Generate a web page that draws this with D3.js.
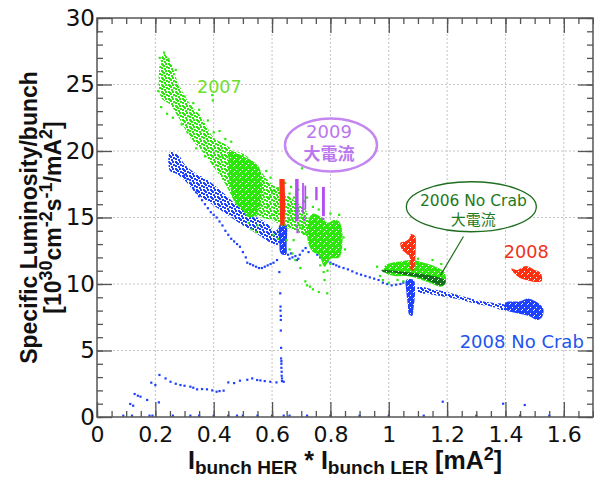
<!DOCTYPE html>
<html>
<head>
<meta charset="utf-8">
<script src="https://cdn.jsdelivr.net/npm/d3@7"></script>
<style>
  body { margin: 0; background: #fff; }
  .tick text { font-family: "DejaVu Sans", sans-serif; fill: #111; }
</style>
</head>
<body>
<div class="chart"></div>
<script>
const w = 594;
const h = 478;
const plotL = 97, plotR = 593, plotT = 18, plotB = 417;

// ---- data (x = I_HER*I_LER [mA^2], y = specific lumi) ----
const xTicks = [0, 0.2, 0.4, 0.6, 0.8, 1, 1.2, 1.4, 1.6];
const yTicks = [0, 5, 10, 15, 20, 25, 30];

// 2007 (light green): cloud outlines + loose points
const green2007Sparse = [
  [0.215,27.0],[0.23,27.4],[0.245,26.9],[0.27,26.1],[0.21,24.5],[0.22,23.3],[0.24,22.8],[0.26,22.5],
  [0.29,22.0],[0.31,21.4],[0.30,24.1],[0.33,23.6],[0.35,23.1],[0.38,22.3],[0.395,24.2],[0.397,23.8],
  [0.40,21.4],[0.42,21.5],[0.44,20.9],[0.46,20.7],[0.34,20.2],[0.43,19.6],[0.37,19.6],
  [0.57,17.7],[0.58,18.5],[0.59,16.5],[0.60,17.0],[0.61,16.0],[0.62,17.2],[0.60,15.2],[0.64,16.6],
  [0.655,16.0],[0.66,15.5],[0.665,17.3],[0.67,14.9],[0.675,16.5],[0.69,15.7],[0.695,14.4],[0.70,15.0],
  [0.705,14.2],[0.71,16.2],[0.715,13.8],[0.655,14.7],[0.64,15.5],[0.703,18.7],[0.69,17.1],[0.72,16.5],
  [0.575,16.8],[0.585,15.8],[0.595,18.0],[0.615,15.4],[0.63,16.2],[0.645,17.6],[0.66,16.8],[0.68,15.2],
  [0.52,14.6],[0.53,14.1],[0.545,13.9],[0.55,14.4],[0.605,13.7],[0.62,13.4],[0.65,13.3],[0.674,13.3],
  [0.66,12.6],[0.67,12.3],[0.68,11.8],[0.697,11.2],[0.72,9.9],[0.73,9.8],[0.714,10.2],[0.74,9.6],
  [0.76,9.4],[0.789,9.3],[0.78,10.3],[0.777,10.9],[0.765,11.4],[0.80,11.5],[0.79,11.0],
  [0.71,14.6],[0.74,15.8],[0.76,15.6],[0.80,15.3],[0.83,15.2],[0.845,13.5],[0.85,12.6],
  [0.96,11.3],[0.97,10.6],[0.98,10.3],[1.00,10.1],[1.03,10.3],[1.05,10.2],[1.10,11.9],[1.15,11.8],[1.18,11.5]
];
const green2007Loose = [
  [[0.215,26.5],[0.23,27.3],[0.25,26.8],[0.28,25.0],[0.32,23.5],[0.36,22.5],[0.40,21.0],[0.44,20.5],
   [0.47,20.0],[0.50,19.8],[0.53,19.3],[0.56,18.5],[0.60,17.5],[0.64,16.9],[0.68,16.2],[0.72,15.4],
   [0.72,13.6],[0.68,14.0],[0.64,14.3],[0.60,14.8],[0.56,15.0],[0.53,15.2],[0.50,15.6],[0.47,16.3],
   [0.44,17.5],[0.40,18.8],[0.36,20.0],[0.32,21.0],[0.28,22.5],[0.25,23.5],[0.22,24.0]]
];
const green2007Dense = [
  [[0.455,20.0],[0.48,19.8],[0.52,19.4],[0.555,18.8],[0.565,17.5],[0.56,16.0],[0.545,15.2],
   [0.52,15.0],[0.50,15.5],[0.47,16.2],[0.455,17.5],[0.45,19.0]],
  [[0.725,14.8],[0.74,15.3],[0.77,15.0],[0.79,14.6],[0.81,14.8],[0.83,14.7],[0.84,14.0],[0.84,12.8],
   [0.83,12.0],[0.80,11.9],[0.78,11.3],[0.76,12.2],[0.74,12.4],[0.725,13.0],[0.72,14.0]],
  [[0.985,11.3],[1.01,11.6],[1.04,11.7],[1.08,11.8],[1.12,11.6],[1.16,11.3],[1.19,10.9],[1.195,10.1],
   [1.18,9.8],[1.14,10.1],[1.10,10.4],[1.06,10.6],[1.02,10.6],[0.99,10.8]]
];

// 2008 No Crab (blue)
const blue2008Sparse = [
  [0.30,18.2],[0.31,17.9],[0.32,17.6],[0.33,17.2],[0.34,16.9],[0.35,16.6],[0.36,16.3],[0.37,16.0],
  [0.38,15.7],[0.39,15.4],[0.40,15.2],[0.41,15.0],[0.42,14.7],[0.43,14.4],[0.44,14.0],[0.45,13.7],
  [0.46,13.4],[0.47,13.2],[0.48,13.0],[0.49,12.8],[0.50,12.4],[0.51,12.0],[0.515,11.6],[0.525,11.5],
  [0.535,11.4],[0.545,11.3],[0.555,11.2],[0.565,11.2],[0.575,11.3],[0.585,11.4],[0.595,11.5],
  [0.605,11.6],[0.617,11.8],[0.625,10.9],
  [0.655,12.2],[0.66,11.9],[0.665,12.3],[0.67,12.0],[0.68,12.1],[0.685,11.8],[0.69,11.9],[0.695,12.2],
  [0.705,12.5],[0.715,12.7],[0.725,12.4],[0.735,12.8],[0.745,12.5],[0.755,12.2],[0.765,12.0],
  [0.775,12.0],[0.79,11.7],[0.80,11.6],[0.81,11.5],[0.82,11.4],[0.83,11.3],[0.845,11.2],[0.86,11.1],
  [0.875,10.95],[0.89,10.8],[0.905,10.7],[0.92,10.6],[0.935,10.5],[0.95,10.4],[0.965,10.3],
  [0.98,10.1],[0.995,10.0],[1.01,9.9],[1.025,9.95],[1.04,10.0],[1.05,10.1],
  [0.628,9.3],[0.629,8.3],[0.629,8.0],[0.63,7.6],[0.63,7.3],[0.63,6.5],[0.631,5.2],[0.631,4.4],
  [0.632,4.2],[0.632,4.0],[0.632,3.7],[0.633,3.4],[0.633,3.1],[0.634,2.9],[0.634,2.7],
  [0.64,2.65],[0.615,2.6],[0.594,2.65],[0.575,2.7],[0.56,2.75],[0.549,2.78],[0.532,2.9],[0.515,2.8],
  [0.49,2.73],[0.47,2.55],[0.45,2.6],[0.434,1.98],[0.42,1.95],[0.41,1.9],[0.395,2.0],[0.377,2.08],
  [0.36,2.1],[0.343,2.08],[0.33,2.2],[0.32,2.28],[0.30,2.35],[0.286,2.4],[0.27,2.5],[0.252,2.65],
  [0.235,2.9],[0.214,3.16],[0.2,2.4],[0.186,2.58],[0.172,1.28],[0.212,1.1],[0.129,1.73],[0.14,1.6],
  [0.149,1.53],[0.114,0.98],[0.124,0.85],[1.185,1.15],[1.392,1.0],[1.466,0.9],
  [0.09,0.1],[0.12,0.1],[0.18,0.1],[0.19,0.1],[0.26,0.1],[0.32,0.1],[0.35,0.1],[0.40,0.1],[0.45,0.1],
  [0.48,0.1],[0.50,0.1],[0.55,0.1],[0.60,0.1],[0.64,0.1],[0.66,0.1],[0.72,0.1],[0.80,0.1],[0.90,0.1],
  [1.0,0.1],[1.12,0.1],[1.30,0.1],[1.45,0.1],[1.55,0.1]
];
const blue2008Loose = [
  [[0.25,19.9],[0.28,19.7],[0.30,19.0],[0.34,18.3],[0.38,17.8],[0.42,17.1],[0.46,16.3],[0.50,15.6],
   [0.54,15.1],[0.58,14.6],[0.61,14.0],[0.63,14.3],[0.63,13.1],[0.61,12.9],[0.58,13.3],[0.54,13.9],
   [0.50,14.4],[0.46,15.0],[0.42,15.6],[0.38,16.2],[0.34,16.8],[0.30,17.8],[0.27,18.3],[0.25,18.5]],
  [[1.10,9.8],[1.15,9.6],[1.20,9.4],[1.25,9.1],[1.30,8.8],[1.35,8.6],[1.40,8.4],[1.40,8.0],
   [1.35,8.3],[1.30,8.5],[1.25,8.8],[1.20,9.0],[1.15,9.2],[1.10,9.4]]
];
const blue2008Dense = [
  [[0.627,14.5],[0.648,14.5],[0.65,13.0],[0.648,12.2],[0.63,12.3],[0.625,13.2]],
  [[1.06,10.3],[1.085,10.3],[1.09,9.4],[1.085,8.2],[1.08,7.6],[1.07,7.7],[1.065,8.5],[1.06,9.5]],
  [[1.40,8.6],[1.45,8.7],[1.48,8.9],[1.51,8.6],[1.53,8.1],[1.525,7.5],[1.51,7.3],[1.48,7.6],[1.44,7.8],[1.40,8.1]]
];

// 2008 (red)
const red2008Strips = [
  [[0.625,17.9],[0.643,17.9],[0.645,16.0],[0.643,14.4],[0.628,14.4],[0.626,16.0]]
];
const red2008Dense = [
  [[1.075,13.75],[1.09,13.6],[1.092,12.5],[1.09,11.6],[1.085,11.0],[1.075,11.1],[1.072,12.0],
   [1.06,12.3],[1.045,12.6],[1.04,13.1],[1.055,13.2],[1.07,13.4]],
  [[1.42,11.15],[1.44,11.05],[1.47,11.35],[1.50,11.05],[1.52,10.85],[1.525,10.25],[1.51,10.15],[1.48,10.25],
   [1.45,10.45],[1.43,10.8]]
];

// 2009 high current (purple)
const purple2009Strips = [
  [[0.679,17.9],[0.691,17.9],[0.691,14.7],[0.679,14.7]],
  [[0.703,17.6],[0.709,17.6],[0.709,15.3],[0.703,15.3]],
  [[0.711,17.4],[0.717,17.4],[0.717,15.6],[0.711,15.6]],
  [[0.748,17.3],[0.756,17.3],[0.756,16.3],[0.748,16.3]],
  [[0.771,17.3],[0.781,17.3],[0.781,15.1],[0.771,15.1]]
];
const purple2009Sparse = [[0.685,14.4],[0.686,14.1],[0.687,13.9],[0.71,15.0],[0.712,14.8],[0.776,14.9]];

// 2006 No Crab high current (dark green)
const dgreen2006Dense = [
  [[0.975,11.05],[1.02,11.0],[1.08,10.85],[1.13,10.7],[1.17,10.5],[1.195,10.25],[1.19,9.95],[1.17,9.9],
   [1.14,10.2],[1.10,10.5],[1.06,10.65],[1.02,10.85],[0.98,10.9]]
];

const colors = {
  green: "#2be80a", blue: "#1e40ff", red: "#ff3010", purple: "#b050f0", dgreen: "#13701a"
};

// ---- drawing ----
const svg = d3.select(".chart")
              .append("svg")
              .attr("width", w)
              .attr("height", h);

const xScale = d3.scaleLinear().domain([0, 1.7]).range([plotL, plotR]);
const yScale = d3.scaleLinear().domain([0, 30]).range([plotB, plotT]);

// dotted textures so the clouds read as scattered points
const defs = svg.append("defs");
Object.keys(colors).forEach(k => {
  const p = defs.append("pattern")
     .attr("id", "loose-" + k)
     .attr("width", 7).attr("height", 7)
     .attr("patternUnits", "userSpaceOnUse");
  [[0,0],[4,0],[2,2],[5,3],[0,4],[3,5],[1,1]].forEach(d => {
    p.append("rect").attr("x", d[0]).attr("y", d[1]).attr("width", 2).attr("height", 2).attr("fill", colors[k]);
  });
  const q = defs.append("pattern")
     .attr("id", "dense-" + k)
     .attr("width", 6).attr("height", 6)
     .attr("patternUnits", "userSpaceOnUse");
  q.append("rect").attr("width", 6).attr("height", 6).attr("fill", colors[k]);
  [[2,1],[5,4],[0,3]].forEach(d => {
    q.append("rect").attr("x", d[0]).attr("y", d[1]).attr("width", 1).attr("height", 1).attr("fill", "#fff");
  });
});

// grid
svg.append("g").selectAll("line")
   .data(xTicks.filter(d => d > 0))
   .enter().append("line")
   .attr("x1", d => xScale(d)).attr("x2", d => xScale(d))
   .attr("y1", plotT).attr("y2", plotB)
   .attr("stroke", "#c4c4c4").attr("stroke-dasharray", "2,2");
svg.append("g").selectAll("line")
   .data(yTicks.filter(d => d > 0 && d < 30))
   .enter().append("line")
   .attr("y1", d => yScale(d)).attr("y2", d => yScale(d))
   .attr("x1", plotL).attr("x2", plotR)
   .attr("stroke", "#c4c4c4").attr("stroke-dasharray", "2,2");

const blob = d3.line().x(d => xScale(d[0])).y(d => yScale(d[1])).curve(d3.curveCatmullRomClosed);
const poly = d3.line().x(d => xScale(d[0])).y(d => yScale(d[1])).curve(d3.curveLinearClosed);

function areas(data, fill, gen) {
  svg.append("g").selectAll("path")
     .data(data).enter().append("path")
     .attr("d", gen || blob)
     .attr("fill", fill);
}
function dots(data, color) {
  svg.append("g").selectAll("rect")
     .data(data).enter().append("rect")
     .attr("x", d => xScale(d[0]) - 1.1)
     .attr("y", d => yScale(d[1]) - 1.1)
     .attr("width", 2.2).attr("height", 2.2)
     .attr("fill", color);
}

areas(blue2008Loose, "url(#loose-blue)");
areas(blue2008Dense, "url(#dense-blue)");
dots(blue2008Sparse, colors.blue);
areas(green2007Loose, "url(#loose-green)");
areas(green2007Dense, "url(#dense-green)");
dots(green2007Sparse, colors.green);
areas(red2008Strips, colors.red, poly);
areas(red2008Dense, "url(#dense-red)");
areas(purple2009Strips, colors.purple, poly);
dots(purple2009Sparse, colors.purple);
areas(dgreen2006Dense, "url(#dense-dgreen)");

// axes: ticks point inwards on all four sides
const xMinor = d3.range(0, 1.70001, 0.05);
const yMinor = d3.range(0, 30.0001, 1);
const fmtX = d => String(+d.toFixed(1));

function styleAxis(g) {
  g.selectAll(".domain").remove();
  g.selectAll(".tick line").attr("stroke", "#555").attr("stroke-width", 1.3);
}

svg.append("g").attr("transform", "translate(0," + plotB + ")")
   .call(d3.axisBottom(xScale).tickValues(xMinor).tickSize(-6).tickFormat(""))
   .call(styleAxis);
svg.append("g").attr("transform", "translate(0," + plotB + ")")
   .call(d3.axisBottom(xScale).tickValues(xTicks).tickSize(-15).tickPadding(9).tickFormat(fmtX))
   .call(styleAxis)
   .selectAll("text").attr("font-size", 22);
svg.append("g").attr("transform", "translate(0," + plotT + ")")
   .call(d3.axisTop(xScale).tickValues(xMinor).tickSize(-6).tickFormat(""))
   .call(styleAxis);
svg.append("g").attr("transform", "translate(0," + plotT + ")")
   .call(d3.axisTop(xScale).tickValues(xTicks).tickSize(-15).tickFormat(""))
   .call(styleAxis);

svg.append("g").attr("transform", "translate(" + plotL + ",0)")
   .call(d3.axisLeft(yScale).tickValues(yMinor).tickSize(-6).tickFormat(""))
   .call(styleAxis);
svg.append("g").attr("transform", "translate(" + plotL + ",0)")
   .call(d3.axisLeft(yScale).tickValues(yTicks).tickSize(-15).tickPadding(2))
   .call(styleAxis)
   .selectAll("text").attr("font-size", 23);
svg.append("g").attr("transform", "translate(" + plotR + ",0)")
   .call(d3.axisRight(yScale).tickValues(yMinor).tickSize(-6).tickFormat(""))
   .call(styleAxis);
svg.append("g").attr("transform", "translate(" + plotR + ",0)")
   .call(d3.axisRight(yScale).tickValues(yTicks).tickSize(-15).tickFormat(""))
   .call(styleAxis);

svg.append("rect")
   .attr("x", plotL).attr("y", plotT)
   .attr("width", plotR - plotL).attr("height", plotB - plotT)
   .attr("fill", "none").attr("stroke", "#555").attr("stroke-width", 1.5);

// axis titles
const xt = svg.append("text")
   .attr("x", (plotL + plotR) / 2).attr("y", 469)
   .attr("text-anchor", "middle")
   .attr("font-family", "Liberation Sans, Arial, sans-serif")
   .attr("font-weight", "bold").attr("font-size", 25).attr("fill", "#111");
xt.append("tspan").text("I");
xt.append("tspan").attr("dy", 5).attr("font-size", 19).text("bunch HER");
xt.append("tspan").attr("dy", -5).text(" * I");
xt.append("tspan").attr("dy", 5).attr("font-size", 19).text("bunch LER");
xt.append("tspan").attr("dy", -5).text(" [mA");
xt.append("tspan").attr("dy", -9).attr("font-size", 18).text("2");
xt.append("tspan").attr("dy", 9).text("]");

const yt = svg.append("g")
   .attr("transform", "translate(0," + ((plotT + plotB) / 2) + ") rotate(-90)")
   .attr("font-family", "Liberation Sans, Arial, sans-serif")
   .attr("font-weight", "bold").attr("fill", "#111")
   .attr("text-anchor", "middle");
yt.append("text").attr("y", 37).attr("font-size", 23).text("Specific Luminosity/bunch");
const y2 = yt.append("text").attr("y", 61).attr("font-size", 23);
y2.append("tspan").text("[10");
y2.append("tspan").attr("dy", -9).attr("font-size", 18).text("30");
y2.append("tspan").attr("dy", 9).text("cm");
y2.append("tspan").attr("dy", -9).attr("font-size", 18).text("-2");
y2.append("tspan").attr("dy", 9).text("s");
y2.append("tspan").attr("dy", -9).attr("font-size", 18).text("-1");
y2.append("tspan").attr("dy", 9).text("/mA");
y2.append("tspan").attr("dy", -9).attr("font-size", 18).text("2");
y2.append("tspan").attr("dy", 9).text("]");

// annotations
const font = "DejaVu Sans, sans-serif";
const cjk = "Noto Sans CJK JP, sans-serif";
svg.append("text").attr("x", xScale(0.343)).attr("y", yScale(24.36))
   .attr("font-family", font).attr("font-size", 17.5).attr("fill", "#6ddf2a").text("2007");

svg.append("ellipse").attr("cx", xScale(0.802)).attr("cy", yScale(20.45))
   .attr("rx", 46).attr("ry", 26.5)
   .attr("fill", "#fff").attr("stroke", "#c487f0").attr("stroke-width", 2.5);
svg.append("text").attr("x", xScale(0.795)).attr("y", yScale(21.0))
   .attr("text-anchor", "middle").attr("font-family", font).attr("font-size", 18)
   .attr("fill", "#bb77ee").text("2009");
svg.append("text").attr("x", xScale(0.795)).attr("y", yScale(19.3))
   .attr("text-anchor", "middle").attr("font-family", cjk).attr("font-weight", "bold")
   .attr("font-size", 17).attr("fill", "#bb77ee").text("大電流");

svg.append("line")
   .attr("x1", xScale(1.256)).attr("y1", yScale(13.57))
   .attr("x2", xScale(1.177)).attr("y2", yScale(10.65))
   .attr("stroke", "#1e6e1e").attr("stroke-width", 1.2);
svg.append("ellipse").attr("cx", xScale(1.283)).attr("cy", yScale(15.81))
   .attr("rx", 65).attr("ry", 25)
   .attr("fill", "#fff").attr("stroke", "#1e6e1e").attr("stroke-width", 1.3);
svg.append("text").attr("x", xScale(1.29)).attr("y", yScale(15.9))
   .attr("text-anchor", "middle").attr("font-family", font).attr("font-size", 15.5)
   .attr("fill", "#1e7a1e").text("2006 No Crab");
svg.append("text").attr("x", xScale(1.29)).attr("y", yScale(14.45))
   .attr("text-anchor", "middle").attr("font-family", cjk)
   .attr("font-size", 15).attr("fill", "#1e7a1e").text("大電流");

svg.append("text").attr("x", xScale(1.394)).attr("y", yScale(11.93))
   .attr("font-family", font).attr("font-size", 17.7).attr("fill", "#ee3322").text("2008");
svg.append("text").attr("x", xScale(1.243)).attr("y", yScale(5.17))
   .attr("font-family", font).attr("font-size", 18).attr("fill", "#2255ee").text("2008 No Crab");
</script>
</body>
</html>
